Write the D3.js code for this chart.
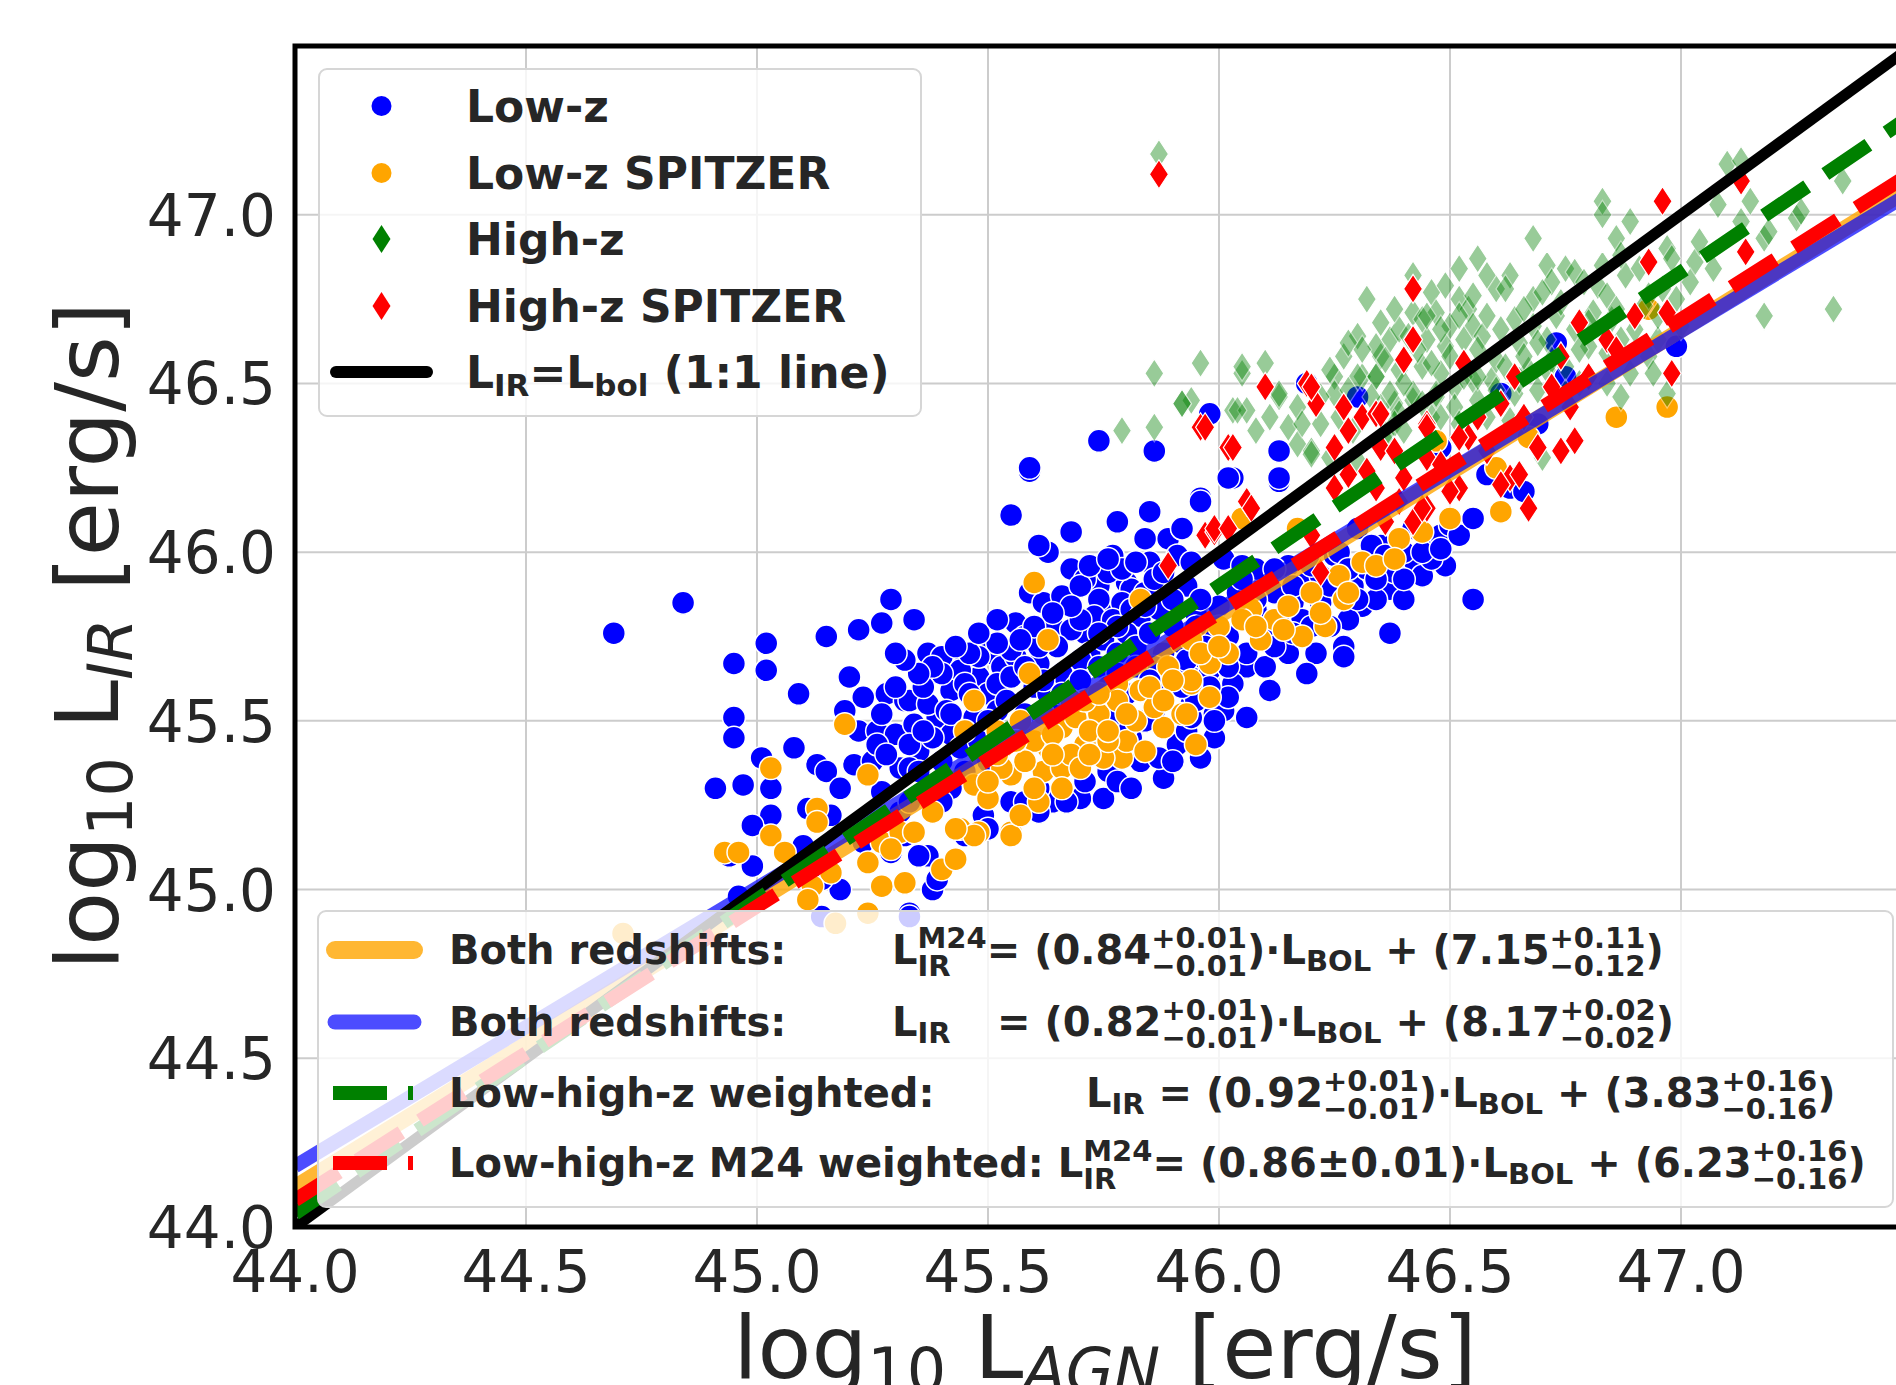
<!DOCTYPE html>
<html>
<head>
<meta charset="utf-8">
<script src="https://cdn.jsdelivr.net/npm/d3@7/dist/d3.min.js"></script>
<style>
  body { margin: 0; background: #fff; }
  text { font-family: "DejaVu Sans", sans-serif; fill: #262626; }
</style>
</head>
<body>
<div id="chart"></div>
<script>
// values: [log L_AGN, log L_IR]
var lowZ = [
  [44.84,45.85],[44.69,45.76],[45.02,45.73],[44.95,45.67],[45.02,45.65],[45.09,45.58],[44.95,45.51],[44.95,45.45],
  [45.15,45.75],[45.22,45.77],[45.27,45.79],[45.29,45.86],[45.20,45.63],[45.23,45.57],[45.28,45.58],[45.32,45.56],
  [45.19,45.53],[45.22,45.47],[45.26,45.47],[45.30,45.46],[45.08,45.42],[45.01,45.39],[45.13,45.37],[45.15,45.35],
  [45.21,45.37],[45.25,45.38],[45.31,45.36],[45.18,45.30],[44.91,45.30],[44.97,45.31],[45.03,45.30],[45.03,45.22],
  [44.99,45.19],[45.11,45.24],[45.16,45.22],[44.94,45.10],[44.99,45.07],[45.01,44.98],[44.96,44.98],[45.18,45.00],
  [45.14,45.03],[45.23,45.14],[45.29,45.11],[45.32,45.16],[45.10,45.13],[45.27,45.29],[45.31,45.23],[45.14,44.92],
  [45.33,44.93],
  [45.59,46.24],[45.55,46.11],[45.96,46.16],[45.85,46.12],[45.78,46.09],[45.68,46.06],[45.63,46.00],[45.68,45.95],
  [45.84,46.04],[45.89,46.04],[45.92,46.07],[45.77,45.99],[45.85,45.97],[45.91,45.99],[45.59,45.88],[45.62,45.85],
  [45.66,45.87],[45.34,45.80],[45.74,45.90],[45.80,45.91],[45.74,45.83],[45.76,45.82],[45.81,45.89],[45.56,45.79],
  [45.58,45.75],[45.64,45.78],[45.71,45.76],[45.37,45.70],[45.40,45.69],[45.45,45.67],[45.50,45.70],[45.53,45.66],
  [45.48,45.63],[45.42,45.59],[45.33,45.56],[45.50,45.58],[45.56,45.69],[45.61,45.67],[45.34,45.49],[45.39,45.51],
  [45.35,45.41],[45.42,45.46],[45.33,45.36],[45.88,45.33],[45.70,45.27],[45.75,45.27],[45.64,45.26],[45.83,45.38],
  [45.91,45.43],[45.99,45.52],[45.89,45.60],[45.96,45.63],[45.49,45.22],[45.42,45.30],[45.55,45.26],[45.61,45.30],
  [45.76,45.35],[45.81,45.45],[45.86,45.53],[45.94,45.55],[45.98,45.77],[45.95,45.82],[45.71,45.92],[45.76,45.94],
  [45.74,45.86],[45.79,45.85],[45.73,45.81],[45.77,45.80],[45.81,45.83],[45.84,45.88],[45.86,45.92],[45.79,45.95],
  [45.83,45.81],[45.87,45.83],[45.68,45.77],[45.65,45.72],[45.61,45.72],[45.55,45.71],[45.52,45.73],[45.48,45.69],
  [45.44,45.65],[45.45,45.61],[45.52,45.61],[45.55,45.63],[45.40,45.64],[45.37,45.55],[45.41,45.53],[45.38,45.45],
  [45.47,45.51],[45.52,45.53],[45.33,45.43],[45.35,45.35],[45.40,45.38],[45.45,45.35],[45.50,45.38],[45.58,45.26],
  [45.67,45.26],[45.71,45.32],[45.78,45.32],[45.81,45.30],[45.87,45.39],[45.90,45.38],[45.99,45.45],[45.96,45.39],
  [45.93,45.47],[45.61,45.23],[45.45,45.16],[45.40,45.26],[45.33,45.26],
  [46.13,46.30],[46.03,46.22],[46.13,46.21],[45.96,46.15],[45.92,46.07],[46.55,45.86],[46.49,45.96],[46.46,46.04],
  [46.50,46.08],[46.42,45.97],[46.37,45.89],[46.40,45.86],[46.31,45.84],[46.37,45.76],[46.27,45.72],[46.27,45.69],
  [46.21,45.70],[46.19,45.64],[46.11,45.59],[46.06,45.51],[46.01,45.53],[46.13,45.79],[46.08,45.83],[46.16,45.85],
  [46.22,45.85],[46.35,46.02],[46.42,46.07],[46.19,45.91],[46.29,45.90],[46.06,45.66],[45.98,45.65],[46.03,45.61],
  [45.94,45.59],[45.99,45.50],[46.10,45.74],[46.02,45.75],[45.96,45.69],[45.94,45.97],[46.01,45.98],[46.05,45.96],
  [46.10,45.91],[46.25,45.99],[46.32,45.95],[46.30,46.07],[46.58,46.23],[46.63,46.19],[46.19,46.50],[45.98,46.41],
  [46.30,46.46],[45.94,45.51],[46.02,45.57],
  [46.99,46.61],[46.73,46.62],[46.75,46.52],[46.61,46.47],[46.69,46.38],[46.66,46.18],[46.58,46.23],[46.48,46.05],
  [46.50,46.08],[46.48,46.31],[45.74,46.33],[45.59,46.25],[45.86,46.30],[46.02,46.22],[46.13,46.22],
  [45.37,45.10],[45.35,45.10],[45.38,45.00],[45.39,45.03],[45.50,45.18],[45.33,44.92],[45.61,46.02],
  [45.70,45.90],[45.72,45.70],[45.75,45.74],[45.78,45.70],[45.80,45.76],[45.82,45.72],[45.85,45.76],[45.88,45.70],
  [45.90,45.78],[45.92,45.73],[45.95,45.78],[45.97,45.72],[45.86,45.66],[45.90,45.64],[45.93,45.68],[45.70,45.68],
  [45.66,45.64],[45.69,45.60],
  [46.00,45.84],[46.04,45.88],[46.08,45.95],[46.12,45.88],[46.15,45.96],[46.18,45.80],[46.22,45.93],[46.26,46.00],
  [46.28,45.80],[46.34,45.86],[46.38,45.94],[46.33,46.02],[46.24,45.78],[46.15,45.70],[46.10,45.66],[46.40,46.00],
  [46.44,45.93],[46.46,45.98],
  [45.46,45.58],[45.50,45.50],[45.54,45.56],[45.58,45.52],[45.60,45.60],[45.57,45.46],[45.62,45.44],[45.65,45.52],
  [45.44,45.42],[45.48,45.44],[45.42,45.52],[45.36,45.60],[45.38,45.66],[45.63,45.58],
  [45.27,45.52],[45.30,45.60],[45.26,45.43],[45.28,45.40],[45.36,45.47],
  [45.72,45.96],[45.76,45.98],[45.82,45.97],[45.88,45.94],[45.93,45.90],[45.96,45.86],[45.90,45.86],[45.84,45.84],
  [45.78,45.78],[45.74,45.76],[45.70,45.80],[45.68,45.84],[45.64,45.82],[45.60,45.78],[45.57,45.74],[45.58,45.66],
  [45.62,45.62],[45.66,45.58],[45.70,45.62],[45.74,45.66],[45.78,45.64],[45.82,45.66],[45.85,45.62],[45.80,45.58],
  [45.76,45.60],[46.05,45.92],[46.08,45.86],[46.12,45.95],[46.16,45.90],[46.20,45.96],[46.24,45.90],[46.28,45.95],
  [46.30,45.86],[46.34,45.92],[46.36,45.99],[46.40,45.92],[46.44,46.00],[46.48,46.01],[46.52,46.05],[46.55,46.10],
  [46.20,45.78],[46.16,45.76],[46.12,45.72],[46.06,45.70],[46.02,45.66],[45.98,45.60],[45.95,45.56],[45.92,45.60],
  [45.88,45.56],[45.84,45.50],[45.80,45.48],[45.76,45.50],[45.72,45.52],[45.46,45.70],[45.43,45.72],[45.48,45.76],
  [45.52,45.80],[45.35,45.64],[45.32,45.68],[45.30,45.70]
];
var lowZSpitzer = [
  [45.19,45.49],[45.03,45.36],[45.24,45.34],[44.93,45.11],[44.96,45.11],[45.03,45.16],[45.13,45.24],[45.13,45.20],
  [45.06,45.11],[45.11,45.07],[45.16,45.05],[45.12,45.01],[45.11,44.97],[45.24,45.08],[45.27,45.14],[45.27,45.01],
  [45.32,45.02],[45.24,44.93],[45.17,44.90],[44.71,44.87],[45.31,45.17],
  [45.60,45.91],[45.63,45.74],[45.59,45.64],[45.47,45.56],[45.45,45.47],[45.53,45.42],[45.55,45.34],[45.47,45.31],
  [45.50,45.27],[45.44,45.18],[45.48,45.17],[45.55,45.17],[45.38,45.23],[45.34,45.17],[45.61,45.26],[45.62,45.35],
  [45.66,45.36],[45.71,45.43],[45.63,45.42],[45.66,45.48],[45.69,45.51],[45.74,45.52],[45.79,45.39],[45.75,45.39],
  [45.80,45.44],[45.83,45.59],[45.78,45.61],[45.89,45.66],[45.94,45.61],[45.98,45.67],[45.98,45.57],[45.88,45.48],
  [45.92,45.52],[45.95,45.43],[45.84,45.41],[45.83,45.86],[45.94,45.74],[45.71,45.56],
  [46.61,46.12],[46.31,45.97],[46.27,45.86],[46.23,45.78],[46.18,45.75],[46.09,45.74],[46.02,45.70],[45.94,45.62],
  [45.93,45.52],[46.07,45.83],[46.39,46.04],[46.60,46.25],[46.47,46.33],[46.05,46.10],[46.17,46.07],[46.26,45.93],
  [46.93,46.72],[46.86,46.40],[46.97,46.43],[46.67,46.34],
  [45.40,45.06],[45.43,45.09],[45.32,45.02],[45.55,45.16],[45.47,45.16],[45.43,45.18],[45.29,45.12],
  [45.52,45.47],[45.57,45.50],[45.60,45.44],[45.64,45.46],[45.68,45.40],[45.72,45.47],[45.76,45.44],[45.70,45.36],
  [45.58,45.38],[45.53,45.36],[45.50,45.32],[45.82,45.50],[45.86,45.54],[45.78,45.56],[45.74,45.58],[45.60,45.30],
  [45.66,45.30],[45.57,45.22],[46.00,45.78],[46.05,45.80],[46.12,45.80],[46.15,45.84],[46.20,45.88],
  [45.62,45.52],[45.68,45.56],[45.72,45.40],[45.64,45.40],[45.56,45.44],[45.52,45.40],[45.85,45.60],[45.90,45.62],
  [45.96,45.70],[46.00,45.72],[45.88,45.56],[45.80,45.52],[45.76,45.47],[46.08,45.78],[46.14,45.77],[46.22,45.82],
  [46.28,45.88],[46.34,45.96],[46.38,45.98],[46.44,46.06],[46.50,46.10]
];
var highZ = [
  [45.94,46.45],[46.03,46.42],[46.06,46.42],[46.13,46.46],[46.17,46.43],[46.15,46.37],[46.17,46.32],[46.20,46.30],
  [46.24,46.28],[46.05,46.53],[46.25,46.52],[46.31,46.52],[46.34,46.52],[46.38,46.44],[46.42,46.45],[46.47,46.46],
  [45.92,46.44],[46.36,46.33],[46.30,46.27],[46.55,46.51],
  [47.10,47.15],[47.13,47.16],[46.83,47.04],[46.83,47.00],[46.89,46.98],[46.86,46.93],[46.68,46.93],[47.08,47.03],
  [47.15,47.04],[47.18,46.93],[47.18,46.70],[46.56,46.87],[46.52,46.84],[46.63,46.82],[46.60,46.78],[46.71,46.85],
  [46.75,46.84],[46.77,46.83],[46.72,46.80],[46.68,46.75],[46.82,46.79],[46.84,46.76],[46.88,46.82],[46.93,46.76],
  [46.97,46.90],[46.98,46.87],[47.03,46.86],[47.07,46.84],[47.13,46.98],[47.25,46.99],[46.42,46.82],[46.46,46.77],
  [46.49,46.79],[46.52,46.75],[46.54,46.72],[46.42,46.71],[46.47,46.71],[46.50,46.67],[46.55,46.67],[46.45,46.63],
  [46.49,46.61],[46.53,46.63],[46.57,46.64],[46.37,46.63],[46.35,46.58],[46.39,46.54],[46.44,46.55],[46.48,46.53],
  [46.42,46.47],[46.47,46.47],[46.51,46.49],[46.37,46.47],[46.39,46.41],[46.46,46.40],[46.51,46.43],[46.56,46.45],
  [46.59,46.51],[46.60,46.57],[46.65,46.62],[46.64,46.69],[46.68,46.67],[46.73,46.70],[46.71,46.63],[46.77,46.66],
  [46.81,46.71],[46.85,46.69],[46.80,46.61],[46.84,46.59],[46.87,46.63],[46.89,46.53],[46.93,46.58],[46.95,46.63],
  [47.00,46.67],[46.94,46.53],[46.97,46.47],[46.87,46.46],[46.84,46.50],[46.71,46.54],[46.75,46.55],[46.67,46.54],
  [46.69,46.48],[46.75,46.47],[46.64,46.47],[46.58,46.40],[46.63,46.39],[46.70,46.28],[46.35,46.43],[46.36,46.35],
  [45.87,47.18],[45.79,46.36],[45.86,46.37],[45.86,46.53],[45.96,46.56],[45.92,46.44],[46.05,46.55],[46.10,46.56],
  [46.04,46.42],[46.13,46.47],[46.32,46.75],[46.30,46.64],[46.27,46.58],[46.24,46.54],[46.30,46.52],[46.34,46.61],
  [46.36,46.57],[46.34,46.52],[46.25,46.47],[46.20,46.29],
  [47.33,46.72],[47.35,47.10],[47.26,47.01],[47.19,46.95],
  [46.26,46.40],[46.29,46.36],[46.33,46.46],[46.38,46.38],[46.40,46.50],[46.43,46.60],[46.46,46.56],[46.50,46.58],
  [46.53,46.52],[46.56,46.60],[46.58,46.70],[46.61,46.66],[46.62,46.55],[46.66,46.58],[46.69,46.62],[46.72,46.57],
  [46.78,46.60],[46.80,46.68],[46.86,46.72],[46.90,46.66],[46.92,46.73],[46.96,46.78],[47.02,46.80],[46.39,46.66],
  [46.44,46.69],[46.28,46.62],[46.22,46.46],[46.18,46.38],[46.11,46.40],[46.08,46.36],
  [46.31,46.60],[46.35,46.68],[46.38,46.72],[46.41,46.64],[46.45,46.70],[46.48,46.66],[46.52,46.70],[46.55,46.76],
  [46.58,46.82],[46.62,46.78],[46.66,46.72],[46.70,46.77],[46.74,46.74],[46.79,46.80],[46.83,46.85],[46.87,46.88],
  [46.91,46.84],[46.95,46.70],[46.99,46.75],[47.04,46.92],[46.60,46.48],[46.56,46.52],[46.52,46.38],[46.48,46.40],
  [46.44,46.44],[46.40,46.36],[46.28,46.48],[46.22,46.38],[46.65,46.51],[46.78,46.50]
];
var highZSpitzer = [
  [45.89,45.96],[45.97,46.05],[45.99,46.06],
  [46.10,46.49],[46.21,46.44],[46.19,46.50],[45.96,46.37],[46.02,46.31],[46.27,46.43],[46.31,46.40],[46.34,46.41],
  [46.25,46.31],[46.45,46.38],[46.35,46.31],[46.32,46.24],[46.28,46.23],[46.25,46.19],[46.34,46.19],[46.40,46.22],
  [46.45,46.28],[46.06,46.15],[46.07,46.13],[45.99,46.07],[46.02,46.07],[46.20,46.05],[46.22,45.94],[46.36,46.09],
  [46.42,46.09],[46.45,46.13],[46.39,46.15],[46.52,46.19],[46.54,46.34],[46.61,46.44],[46.63,46.22],
  [46.96,47.04],[47.13,47.10],[46.42,46.78],[46.42,46.63],[46.40,46.57],[46.53,46.56],[46.93,46.86],[47.14,46.89],
  [46.78,46.68],[46.84,46.63],[46.90,46.70],[46.97,46.71],[46.74,46.58],[46.64,46.52],[46.72,46.49],[46.76,46.43],
  [46.69,46.31],[46.74,46.30],[46.77,46.33],[46.98,46.53],[46.45,46.37],[46.52,46.34],[46.65,46.23],[46.61,46.20],
  [46.67,46.13],[46.50,46.18],[46.44,46.13],[46.35,46.41],
  [45.87,47.12],[45.97,46.37],[46.03,46.31],[46.20,46.49],
  [46.28,46.36],[46.38,46.30],[46.48,46.26],[46.56,46.40],[46.58,46.30],[46.66,46.40],[46.80,46.52],[46.86,46.60]
];

// fitted relations as drawn (slope, intercept), plus the 1:1 line
var fitSlopes = [0.847, 0.825, 1.0, 0.93, 0.87];
var fitIntercepts = [6.85, 7.88, 0.0, 3.12, 5.80];
var xTicks = [44.0, 44.5, 45.0, 45.5, 46.0, 46.5, 47.0];
var yTicks = [44.0, 44.5, 45.0, 45.5, 46.0, 46.5, 47.0];
var legendTop = ['Low-z', 'Low-z SPITZER', 'High-z', 'High-z SPITZER'];

var W = 1896, H = 1385;
var box = {l: 295, r: 1912, t: 46, b: 1227};

var svg = d3.select('#chart').append('svg')
    .attr('width', W).attr('height', H)
    .style('display', 'block');

var x = d3.scaleLinear().domain([44, 47.5]).range([box.l, box.r]);
var y = d3.scaleLinear().domain([44, 47.5]).range([box.b, box.t]);

svg.append('defs').append('clipPath').attr('id', 'plotclip')
  .append('rect').attr('x', box.l).attr('y', box.t)
  .attr('width', box.r - box.l).attr('height', box.b - box.t);

// grid
var grid = svg.append('g');
grid.selectAll('.gx').data(xTicks).enter().append('line')
    .attr('x1', d => x(d)).attr('x2', d => x(d))
    .attr('y1', box.t).attr('y2', box.b)
    .attr('stroke', '#cccccc').attr('stroke-width', 2);
grid.selectAll('.gy').data(yTicks).enter().append('line')
    .attr('y1', d => y(d)).attr('y2', d => y(d))
    .attr('x1', box.l).attr('x2', box.r)
    .attr('stroke', '#cccccc').attr('stroke-width', 2);

var plot = svg.append('g').attr('clip-path', 'url(#plotclip)');

var diamond = 'M0,-14.5L9.5,0L0,14.5L-9.5,0Z';

plot.append('g').selectAll('circle').data(lowZ).enter().append('circle')
    .attr('cx', d => x(d[0])).attr('cy', d => y(d[1])).attr('r', 11.5)
    .attr('fill', '#0000ff').attr('stroke', '#fff').attr('stroke-width', 1.5);
plot.append('g').selectAll('circle').data(lowZSpitzer).enter().append('circle')
    .attr('cx', d => x(d[0])).attr('cy', d => y(d[1])).attr('r', 11.5)
    .attr('fill', '#ffa500').attr('stroke', '#fff').attr('stroke-width', 1.5);
plot.append('g').selectAll('path').data(highZ).enter().append('path')
    .attr('d', diamond)
    .attr('transform', d => 'translate(' + x(d[0]) + ',' + y(d[1]) + ')')
    .attr('fill', '#008000').attr('stroke', '#fff').attr('stroke-width', 1.2)
    .attr('opacity', 0.4);
plot.append('g').selectAll('path').data(highZSpitzer).enter().append('path')
    .attr('d', diamond)
    .attr('transform', d => 'translate(' + x(d[0]) + ',' + y(d[1]) + ')')
    .attr('fill', '#ff0000').attr('stroke', '#fff').attr('stroke-width', 1.2);

// fit lines: orange, blue, 1:1, green dashed, red dashed
var lineStyles = [
  {color: '#ffa500', width: 16, opacity: 0.8, dash: null},
  {color: '#0000ff', width: 14, opacity: 0.7, dash: null},
  {color: '#000000', width: 11, opacity: 1, dash: null},
  {color: '#008000', width: 14, opacity: 1, dash: '52,22'},
  {color: '#ff0000', width: 14, opacity: 1, dash: '52,22'}
];
var line = d3.line().x(d => x(d[0])).y(d => y(d[1]));
fitSlopes.forEach(function (m, i) {
  var b = fitIntercepts[i];
  var pts = [44, 47.5].map(v => [v, m * v + b]);
  var s = lineStyles[i];
  plot.append('path').attr('d', line(pts))
      .attr('fill', 'none').attr('stroke', s.color)
      .attr('stroke-width', s.width).attr('stroke-opacity', s.opacity)
      .attr('stroke-dasharray', s.dash);
});

// frame
svg.append('rect').attr('x', box.l).attr('y', box.t)
    .attr('width', box.r - box.l).attr('height', box.b - box.t)
    .attr('fill', 'none').attr('stroke', '#000').attr('stroke-width', 5);

// tick labels
svg.append('g').selectAll('text').data(xTicks).enter().append('text')
    .attr('x', d => x(d)).attr('y', 1292)
    .attr('text-anchor', 'middle').style('font-size', '58px')
    .text(d => d.toFixed(1));
svg.append('g').selectAll('text').data(yTicks).enter().append('text')
    .attr('x', 276).attr('y', d => y(d) + 21)
    .attr('text-anchor', 'end').style('font-size', '58px')
    .text(d => d.toFixed(1));

// axis labels
function axisLabel(t, sub) {
  t.append('tspan').text('log');
  t.append('tspan').attr('dy', 14).style('font-size', '62px').text('10');
  t.append('tspan').attr('dy', -14).text('\u00a0L');
  t.append('tspan').attr('dy', 14).style('font-size', '62px').style('font-style', 'italic').text(sub);
  t.append('tspan').attr('dy', -14).text('\u00a0[erg/s]');
}
axisLabel(svg.append('text').attr('x', 1105).attr('y', 1378)
    .attr('text-anchor', 'middle').style('font-size', '88px'), 'AGN');
axisLabel(svg.append('text').attr('transform', 'translate(118,636) rotate(-90)')
    .attr('text-anchor', 'middle').style('font-size', '88px'), 'IR');

// rich text helper: strings are normal, {sup, sub} objects are stacked scripts
function rich(g, x0, y0, parts, fs, ss, supDy, subDy, subOnlyDy) {
  var cx = x0;
  parts.forEach(function (p) {
    if (typeof p === 'string') {
      var t = g.append('text').attr('x', cx).attr('y', y0)
          .attr('xml:space', 'preserve').style('white-space', 'pre')
          .style('font-size', fs + 'px').style('font-weight', 'bold').text(p);
      cx += t.node().getComputedTextLength();
    } else {
      var w = 0;
      if (p.sup) {
        var a = g.append('text').attr('x', cx).attr('y', y0 + supDy)
            .style('font-size', ss + 'px').style('font-weight', 'bold').text(p.sup);
        w = Math.max(w, a.node().getComputedTextLength());
      }
      if (p.sub) {
        var c = g.append('text').attr('x', cx).attr('y', y0 + (p.sup ? subDy : subOnlyDy))
            .style('font-size', ss + 'px').style('font-weight', 'bold').text(p.sub);
        w = Math.max(w, c.node().getComputedTextLength());
      }
      cx += w;
    }
  });
  return cx;
}

// upper legend
var leg1 = svg.append('g');
leg1.append('rect').attr('x', 319).attr('y', 69).attr('width', 602).attr('height', 347)
    .attr('rx', 8).attr('fill', '#fff').attr('fill-opacity', 0.8)
    .attr('stroke', '#d6d6d6').attr('stroke-width', 2);
var rowY1 = [106, 173, 239, 306, 372];
leg1.append('circle').attr('cx', 381.5).attr('cy', rowY1[0]).attr('r', 10).attr('fill', '#0000ff');
leg1.append('circle').attr('cx', 381.5).attr('cy', rowY1[1]).attr('r', 10).attr('fill', '#ffa500');
leg1.append('path').attr('d', 'M0,-14L9,0L0,14L-9,0Z')
    .attr('transform', 'translate(381.5,' + rowY1[2] + ')').attr('fill', '#008000');
leg1.append('path').attr('d', 'M0,-14L9,0L0,14L-9,0Z')
    .attr('transform', 'translate(381.5,' + rowY1[3] + ')').attr('fill', '#ff0000');
leg1.append('line').attr('x1', 336).attr('x2', 427).attr('y1', rowY1[4]).attr('y2', rowY1[4])
    .attr('stroke', '#000').attr('stroke-width', 12).attr('stroke-linecap', 'round');
legendTop.forEach(function (s, i) {
  leg1.append('text').attr('x', 466).attr('y', rowY1[i] + 16)
      .style('font-size', '44px').style('font-weight', 'bold').text(s);
});
rich(leg1, 466, rowY1[4] + 16, ['L', {sub: 'IR'}, '=L', {sub: 'bol'}, ' (1:1 line)'], 44, 31, -16, 12, 8);

// lower legend
var leg2 = svg.append('g');
leg2.append('rect').attr('x', 318).attr('y', 911).attr('width', 1575).attr('height', 296)
    .attr('rx', 8).attr('fill', '#fff').attr('fill-opacity', 0.8)
    .attr('stroke', '#d6d6d6').attr('stroke-width', 2);
var rowY2 = [950, 1022, 1093, 1163];
leg2.append('line').attr('x1', 335).attr('x2', 414).attr('y1', rowY2[0]).attr('y2', rowY2[0])
    .attr('stroke', '#ffa500').attr('stroke-opacity', 0.8).attr('stroke-width', 18).attr('stroke-linecap', 'round');
leg2.append('line').attr('x1', 335).attr('x2', 414).attr('y1', rowY2[1]).attr('y2', rowY2[1])
    .attr('stroke', '#0000ff').attr('stroke-opacity', 0.7).attr('stroke-width', 15).attr('stroke-linecap', 'round');
leg2.append('line').attr('x1', 333).attr('x2', 413).attr('y1', rowY2[2]).attr('y2', rowY2[2])
    .attr('stroke', '#008000').attr('stroke-width', 14).attr('stroke-dasharray', '54,21');
leg2.append('line').attr('x1', 333).attr('x2', 413).attr('y1', rowY2[3]).attr('y2', rowY2[3])
    .attr('stroke', '#ff0000').attr('stroke-width', 14).attr('stroke-dasharray', '54,21');

var base2 = rowY2.map(v => v + 14);
var pm = function (a, b) { return {sup: a, sub: b}; };
rich(leg2, 449, base2[0], ['Both redshifts:'], 40, 29, -16, 12, 7);
rich(leg2, 892, base2[0], ['L', {sup: 'M24', sub: 'IR'}, '= (0.84', pm('+0.01', '\u22120.01'),
  ')\u00b7L', {sub: 'BOL'}, ' + (7.15', pm('+0.11', '\u22120.12'), ')'], 40, 29, -16, 12, 7);
rich(leg2, 449, base2[1], ['Both redshifts:'], 40, 29, -16, 12, 7);
rich(leg2, 892, base2[1], ['L', {sub: 'IR'}], 40, 29, -16, 12, 7);
rich(leg2, 997, base2[1], ['= (0.82', pm('+0.01', '\u22120.01'),
  ')\u00b7L', {sub: 'BOL'}, ' + (8.17', pm('+0.02', '\u22120.02'), ')'], 40, 29, -16, 12, 7);
rich(leg2, 449, base2[2], ['Low-high-z weighted:'], 40, 29, -16, 12, 7);
rich(leg2, 1086, base2[2], ['L', {sub: 'IR'}, ' = (0.92', pm('+0.01', '\u22120.01'),
  ')\u00b7L', {sub: 'BOL'}, ' + (3.83', pm('+0.16', '\u22120.16'), ')'], 40, 29, -16, 12, 7);
rich(leg2, 449, base2[3], ['Low-high-z M24 weighted: L', {sup: 'M24', sub: 'IR'},
  '= (0.86\u00b10.01)\u00b7L', {sub: 'BOL'}, ' + (6.23', pm('+0.16', '\u22120.16'), ')'], 40, 29, -16, 12, 7);
</script>
</body>
</html>
